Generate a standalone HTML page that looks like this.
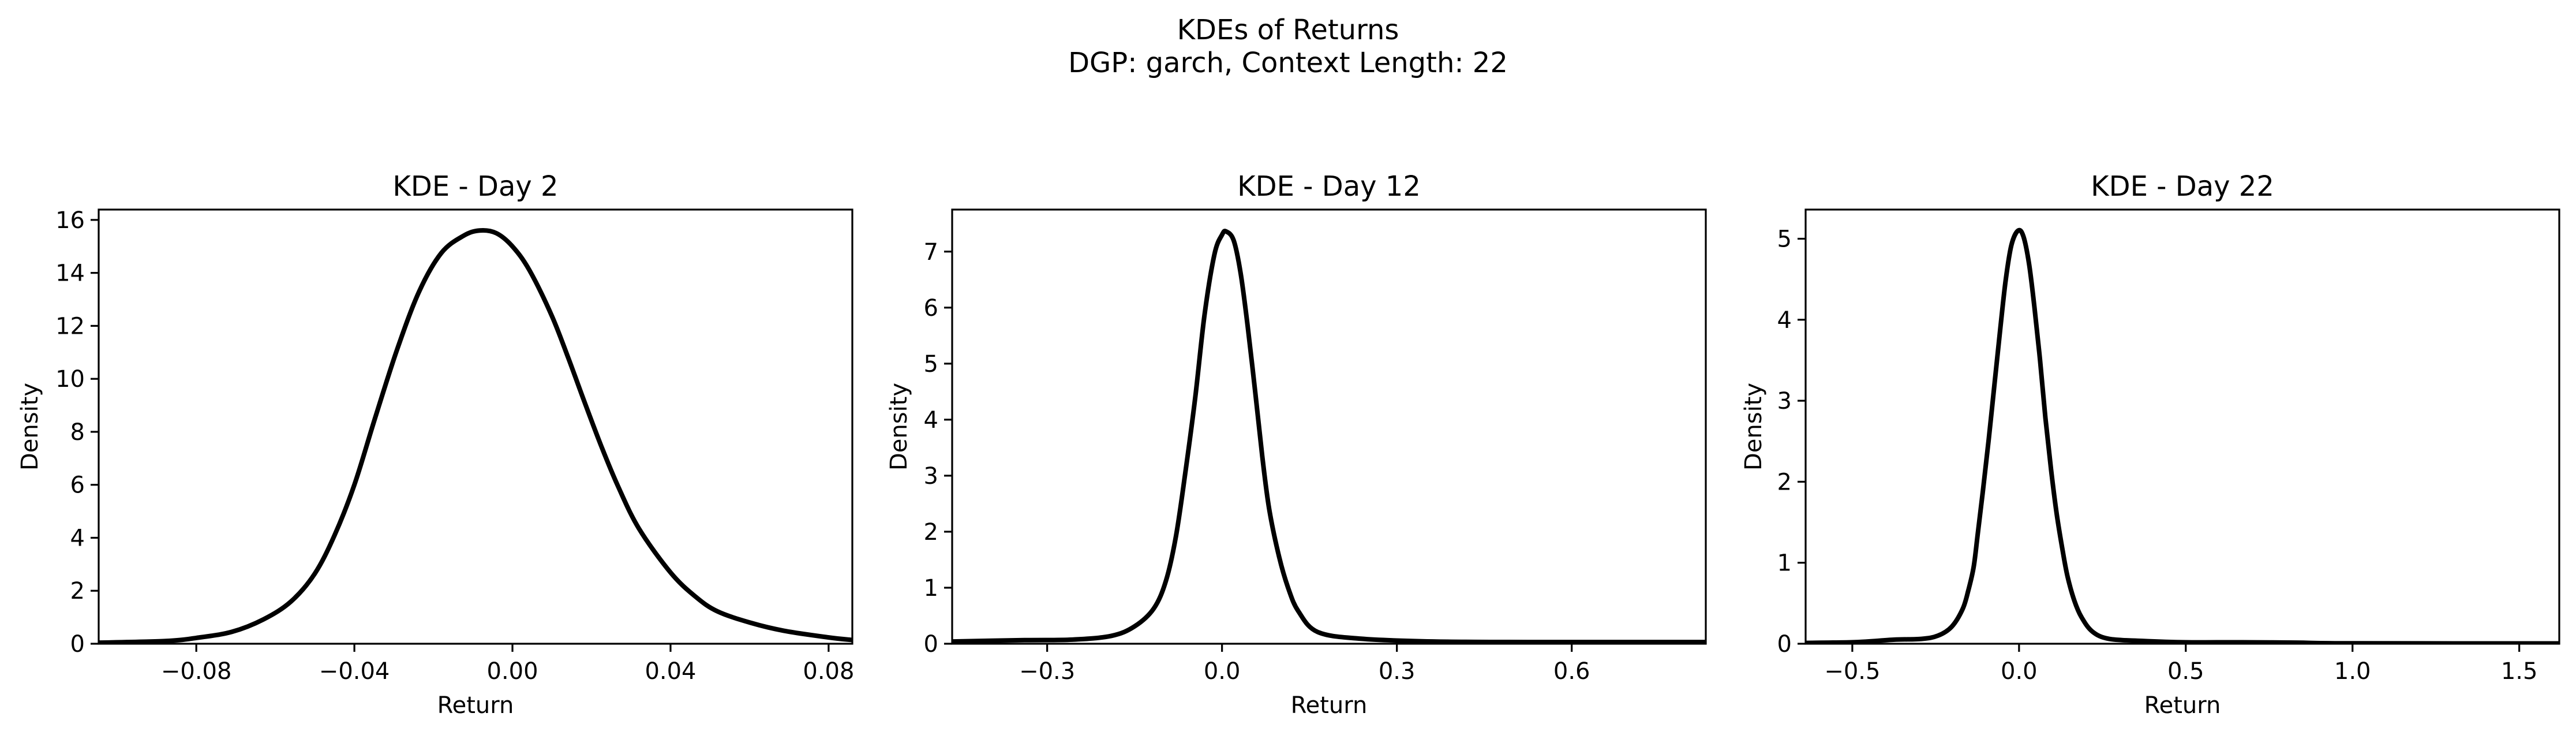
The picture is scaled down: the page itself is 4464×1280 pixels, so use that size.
<!DOCTYPE html>
<html><head><meta charset="utf-8"><style>
html,body{margin:0;padding:0;background:#fff;}
svg text{font-family:"DejaVu Sans","Liberation Sans",sans-serif;fill:#000;}
</style></head><body>
<svg id="fig" width="4464" height="1275" viewBox="0 0 4464 1275" xmlns="http://www.w3.org/2000/svg">
<rect width="4464" height="1275" fill="#fff"/>
<text x="2232" y="68" font-size="48" text-anchor="middle">KDEs of Returns</text>
<text x="2232" y="125" font-size="48" text-anchor="middle">DGP: garch, Context Length: 22</text>
</svg>
<script>
const day2X=[-0.105,-0.088,-0.08,-0.071,-0.063,-0.056,-0.05,-0.045,-0.04,-0.0348,-0.0292,-0.0236,-0.018,-0.0124,-0.0083,-0.0041,0,0.0043,0.0099,0.0141,0.0183,0.0225,0.0267,0.032,0.04,0.0463,0.0519,0.0603,0.0687,0.0799,0.0861];
const day2Y=[0.04,0.1,0.22,0.45,0.92,1.6,2.65,4.1,6.0,8.5,11.1,13.3,14.75,15.4,15.6,15.5,15.0,14.1,12.4,10.8,9.1,7.45,5.95,4.35,2.69,1.78,1.22,0.79,0.49,0.24,0.14];
const day12X=[-0.463,-0.339,-0.257,-0.19,-0.15,-0.117,-0.096,-0.079,-0.063,-0.046,-0.03,-0.013,0,0.007,0.02,0.032,0.044,0.057,0.069,0.081,0.098,0.114,0.131,0.164,0.238,0.362,0.527,0.692,0.83];
const day12Y=[0.04,0.064,0.074,0.14,0.31,0.63,1.13,1.92,3.05,4.39,5.87,6.95,7.3,7.36,7.2,6.61,5.67,4.49,3.35,2.4,1.55,0.98,0.58,0.21,0.09,0.04,0.03,0.03,0.03];
const day22X=[-0.64,-0.49,-0.376,-0.293,-0.243,-0.202,-0.169,-0.152,-0.136,-0.124,-0.108,-0.091,-0.073,-0.056,-0.04,-0.023,-0.003,0.013,0.03,0.046,0.063,0.079,0.096,0.113,0.132,0.146,0.166,0.187,0.22,0.27,0.369,0.5,0.667,0.833,1.0,1.637];
const day22Y=[0.01,0.02,0.05,0.06,0.1,0.21,0.43,0.66,0.95,1.35,1.9,2.52,3.23,3.9,4.49,4.92,5.1,5.03,4.69,4.16,3.5,2.79,2.15,1.6,1.12,0.82,0.53,0.33,0.15,0.06,0.035,0.018,0.018,0.013,0.005,0.004];
const day2XTicks=[-0.08,-0.04,0,0.04,0.08];
const day2XLabels=["\u22120.08","\u22120.04","0.00","0.04","0.08"];
const day2YTicks=[0,2,4,6,8,10,12,14,16];
const day12XTicks=[-0.3,0,0.3,0.6];
const day12XLabels=["\u22120.3","0.0","0.3","0.6"];
const day12YTicks=[0,1,2,3,4,5,6,7];
const day22XTicks=[-0.5,0,0.5,1.0,1.5];
const day22XLabels=["\u22120.5","0.0","0.5","1.0","1.5"];
const day22YTicks=[0,1,2,3,4,5];
const panelTitles=["KDE - Day 2","KDE - Day 12","KDE - Day 22"];

const NS="http://www.w3.org/2000/svg";
const svg=document.getElementById('fig');
function mk(tag,attrs,parent){const e=document.createElementNS(NS,tag);for(const k in attrs)e.setAttribute(k,attrs[k]);(parent||svg).appendChild(e);return e;}

const panels=[
 {L:171,R:1477,xmin:-0.1047,xmax:0.086,ymax:16.39,xs:day2X,ys:day2Y,xt:day2XTicks,xl:day2XLabels,yt:day2YTicks,yl:51},
 {L:1650,R:2956,xmin:-0.463,xmax:0.83,ymax:7.75,xs:day12X,ys:day12Y,xt:day12XTicks,xl:day12XLabels,yt:day12YTicks,yl:1557},
 {L:3129,R:4435,xmin:-0.64,xmax:1.62,ymax:5.36,xs:day22X,ys:day22Y,xt:day22XTicks,xl:day22XLabels,yt:day22YTicks,yl:3038}
];
const T=363,B=1115;
panels.forEach((p,i)=>{
 const g=mk('g',{});
 
 
 const sx=v=>p.L+(v-p.xmin)/(p.xmax-p.xmin)*(p.R-p.L);
 const sy=v=>B-v/p.ymax*(B-T);
 const clipId='clip'+i;
 const cp=mk('clipPath',{id:clipId},g);mk('rect',{x:p.L,y:T,width:p.R-p.L,height:B-T},cp);
 const pts=p.xs.map((x,k)=>[sx(x),sy(p.ys[k])]);
 let d='M'+pts[0][0]+','+pts[0][1];
 for(let k=0;k<pts.length-1;k++){
  const p0=pts[k-1]||pts[k],p1=pts[k],p2=pts[k+1],p3=pts[k+2]||p2;
  const c1=[p1[0]+(p2[0]-p0[0])/6,p1[1]+(p2[1]-p0[1])/6];
  const c2=[p2[0]-(p3[0]-p1[0])/6,p2[1]-(p3[1]-p1[1])/6];
  d+=' C'+c1[0]+','+c1[1]+' '+c2[0]+','+c2[1]+' '+p2[0]+','+p2[1];
 }
 const line=mk('path',{d:d,fill:'none',stroke:'#000','stroke-width':8,'stroke-linejoin':'round','clip-path':'url(#'+clipId+')'},g);
 
 
 const frame=mk('rect',{x:p.L,y:T,width:p.R-p.L,height:B-T,fill:'none',stroke:'#000','stroke-width':3.2},g);
 
 
 p.xt.forEach((v,k)=>{
  const x=sx(v);
  mk('line',{x1:x,x2:x,y1:B,y2:B+14,stroke:'#000','stroke-width':3.2},g);
  const t=mk('text',{x:x,y:1176,'font-size':40,'text-anchor':'middle'},g);
  t.textContent=p.xl[k];
  
  
 });
 p.yt.forEach(v=>{
  const y=sy(v);
  mk('line',{x1:p.L-14,x2:p.L,y1:y,y2:y,stroke:'#000','stroke-width':3.2},g);
  const t=mk('text',{x:p.L-24,y:y+14,'font-size':40,'text-anchor':'end'},g);
  t.textContent=String(v);
  
  
 });
 const tt=mk('text',{x:(p.L+p.R)/2,y:339,'font-size':48,'text-anchor':'middle'},g);
 tt.textContent=panelTitles[i];
 
 
 const xl=mk('text',{x:(p.L+p.R)/2,y:1235,'font-size':40,'text-anchor':'middle'},g);
 xl.textContent='Return';
 
 
 const yl=mk('text',{x:0,y:0,'font-size':40,'text-anchor':'middle',transform:'translate('+(p.yl+14)+','+((T+B)/2)+') rotate(-90)'},g);
 yl.textContent='Density';
 
 
});
</script>
</body></html>
